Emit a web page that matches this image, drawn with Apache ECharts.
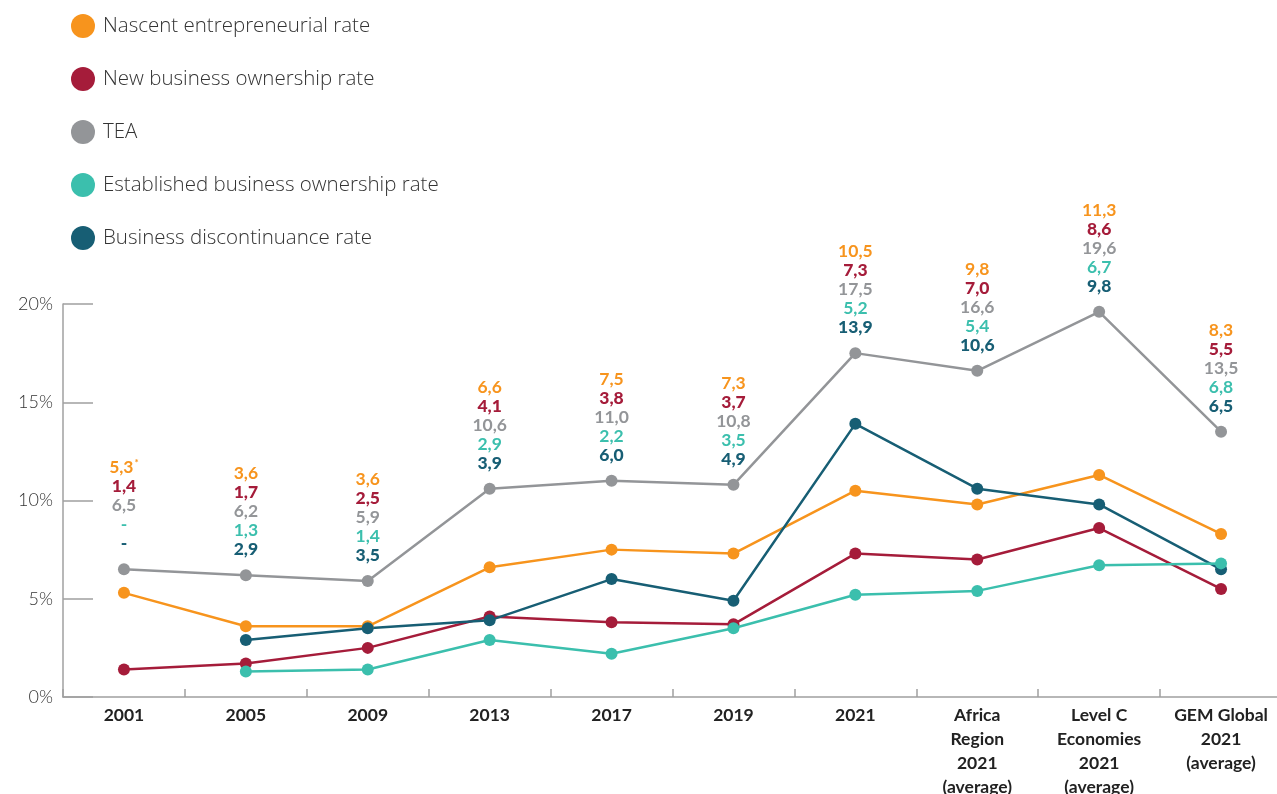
<!DOCTYPE html>
<html>
<head>
<meta charset="utf-8">
<style>
  html, body { margin: 0; padding: 0; background: #fff; }
  #chart { width: 1277px; height: 794px; }
</style>
<script src="https://cdn.jsdelivr.net/npm/echarts@6/dist/echarts.min.js"></script>
</head>
<body>
<div id="chart"></div>
<script>
// categories along the x axis
const categories = ['2001', '2005', '2009', '2013', '2017', '2019', '2021',
  'Africa\nRegion\n2021\n(average)', 'Level C\nEconomies\n2021\n(average)', 'GEM Global\n2021\n(average)'];

// series values (%)
const nascent = [5.3, 3.6, 3.6, 6.6, 7.5, 7.3, 10.5, 9.8, 11.3, 8.3];
const newBusiness = [1.4, 1.7, 2.5, 4.1, 3.8, 3.7, 7.3, 7.0, 8.6, 5.5];
const tea = [6.5, 6.2, 5.9, 10.6, 11.0, 10.8, 17.5, 16.6, 19.6, 13.5];
const established = [null, 1.3, 1.4, 2.9, 2.2, 3.5, 5.2, 5.4, 6.7, 6.8];
const discontinuance = [null, 2.9, 3.5, 3.9, 6.0, 4.9, 13.9, 10.6, 9.8, 6.5];

const seriesNames = ['Nascent entrepreneurial rate', 'New business ownership rate', 'TEA',
  'Established business ownership rate', 'Business discontinuance rate'];
const colors = ['#F7941D', '#A51C3A', '#939598', '#3BBFAD', '#175E74'];

const FONT = 'Lato, "Open Sans", sans-serif';

// number with comma decimal, "-" when missing
const fmt = (v) => (v == null ? '-' : v.toFixed(1).replace('.', ','));

// stacked value labels, shown above the TEA point
const stackLabel = (i) => {
  const first = i === 0 ? '{a|' + fmt(nascent[i]) + '}{s|*}' : '{a|' + fmt(nascent[i]) + '}';
  return [
    first,
    '{b|' + fmt(newBusiness[i]) + '}',
    '{c|' + fmt(tea[i]) + '}',
    '{d|' + fmt(established[i]) + '}',
    '{e|' + fmt(discontinuance[i]) + '}'
  ].join('\n');
};

const LH = 19;
const rich = {
  a: { color: colors[0], fontSize: 17.5, fontWeight: 700, lineHeight: LH, fontFamily: FONT },
  s: { color: colors[0], fontSize: 10, fontWeight: 700, lineHeight: LH, verticalAlign: 'top', fontFamily: FONT, padding: [0, 0, 6, 1] },
  b: { color: colors[1], fontSize: 17.5, fontWeight: 900, lineHeight: LH, fontFamily: FONT },
  c: { color: colors[2], fontSize: 17.5, fontWeight: 700, lineHeight: LH, fontFamily: FONT },
  d: { color: colors[3], fontSize: 17.5, fontWeight: 700, lineHeight: LH, fontFamily: FONT },
  e: { color: colors[4], fontSize: 17.5, fontWeight: 900, lineHeight: LH, fontFamily: FONT }
};

const lineSeries = (name, data, color, extra) => Object.assign({
  name: name,
  type: 'line',
  data: data,
  symbol: 'circle',
  symbolSize: 12,
  connectNulls: false,
  lineStyle: { color: color, width: 2.5 },
  itemStyle: { color: color },
  emphasis: { disabled: true }
}, extra || {});

const chart = echarts.init(document.getElementById('chart'));

const option = {
  animation: false,
  color: colors,
  legend: {
    orient: 'vertical',
    left: 66,
    top: 9,
    icon: 'circle',
    itemWidth: 24,
    itemHeight: 24,
    itemGap: 29,
    selectedMode: false,
    textStyle: { fontSize: 20.5, color: '#333', fontFamily: '"Open Sans", sans-serif', fontWeight: 300, padding: [0, 0, 0, 3] },
    data: seriesNames
  },
  grid: { left: 63, top: 304, width: 1219, height: 393, outerBoundsMode: 'none', containLabel: false },
  xAxis: {
    type: 'category',
    data: categories,
    boundaryGap: true,
    axisLine: { lineStyle: { color: '#a0a0a0', width: 1.5 } },
    axisTick: { show: true, inside: true, length: 8, interval: 0, lineStyle: { color: '#a0a0a0', width: 1.5 } },
    axisLabel: {
      interval: 0,
      margin: 6,
      color: '#222',
      fontSize: 17.5,
      fontWeight: 700,
      lineHeight: 24,
      fontFamily: FONT
    },
    splitLine: { show: false }
  },
  yAxis: {
    type: 'value',
    min: 0,
    max: 20,
    interval: 5,
    axisLine: { show: true, lineStyle: { color: '#a0a0a0', width: 1.5 } },
    axisTick: { show: true, inside: true, length: 30, lineStyle: { color: '#a0a0a0', width: 1.5 } },
    axisLabel: { margin: 10, color: '#333', fontSize: 18, fontWeight: 300, fontFamily: FONT, formatter: '{value}%' },
    splitLine: { show: false }
  },
  series: [
    lineSeries(seriesNames[2], tea, colors[2], {
      label: {
        show: true,
        position: 'top',
        distance: 10,
        align: 'center',
        formatter: (p) => stackLabel(p.dataIndex),
        rich: rich
      }
    }),
    lineSeries(seriesNames[0], nascent, colors[0]),
    lineSeries(seriesNames[1], newBusiness, colors[1]),
    lineSeries(seriesNames[4], discontinuance, colors[4]),
    lineSeries(seriesNames[3], established, colors[3])
  ]
};

chart.setOption(option);
window.addEventListener('resize', () => chart.resize());
</script>
</body>
</html>
